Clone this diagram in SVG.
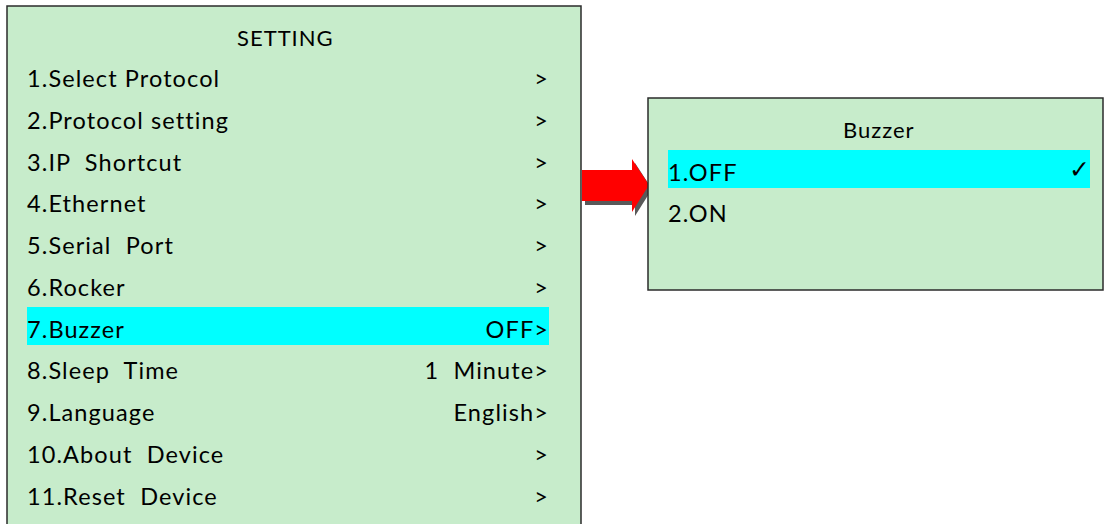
<svg xmlns="http://www.w3.org/2000/svg" width="1104" height="524" viewBox="0 0 1104 524">
<style>
.panel{fill:#C7ECCB;stroke:#2b2b2b;stroke-width:1.5}
.hl{fill:#00FFFF}
text{font-family:Lato,"Open Sans","Liberation Sans",sans-serif;font-size:23.5px;fill:#000;white-space:pre;letter-spacing:1.1px}
.t{font-size:22px;letter-spacing:1px}
.r{text-anchor:end}
.chk{font-family:"DejaVu Sans",sans-serif;font-size:25px;letter-spacing:0}
</style>
<rect width="1104" height="524" fill="#fff"/>
<g id="setting-menu">
<rect class="panel" x="7" y="6" width="574" height="530"/>
<rect class="hl" x="27" y="307" width="522" height="38"/>
<text class="t" x="237" y="46">SETTING</text>
<text x="27" y="87">1.Select Protocol</text><text class="r" x="549" y="87">&gt;</text>
<text x="27" y="128.75">2.Protocol setting</text><text class="r" x="549" y="128.75">&gt;</text>
<text x="27" y="170.5">3.IP  Shortcut</text><text class="r" x="549" y="170.5">&gt;</text>
<text x="27" y="212.25">4.Ethernet</text><text class="r" x="549" y="212.25">&gt;</text>
<text x="27" y="254">5.Serial  Port</text><text class="r" x="549" y="254">&gt;</text>
<text x="27" y="295.75">6.Rocker</text><text class="r" x="549" y="295.75">&gt;</text>
<text x="27" y="337.5">7.Buzzer</text><text class="r" x="549" y="337.5">OFF&gt;</text>
<text x="27" y="379.25">8.Sleep  Time</text><text class="r" x="549" y="379.25">1  Minute&gt;</text>
<text x="27" y="421">9.Language</text><text class="r" x="549" y="421">English&gt;</text>
<text x="27" y="462.75">10.About  Device</text><text class="r" x="549" y="462.75">&gt;</text>
<text x="27" y="504.5">11.Reset  Device</text><text class="r" x="549" y="504.5">&gt;</text>
</g>
<g id="connectors">
<polygon points="585,174 635,174 635,163 652,189 635,216 635,205 585,205" fill="#595959"/>
<polygon points="582,170 632,170 632,159 649,185 632,212 632,201 582,201" fill="#FF0000"/>
</g>
<g id="buzzer-menu">
<rect class="panel" x="648" y="98" width="455" height="192"/>
<rect class="hl" x="668" y="150" width="422" height="38"/>
<text class="t" x="843" y="138">Buzzer</text>
<text x="668" y="181">1.OFF</text>
<text class="chk r" x="1090" y="178">✓</text>
<text x="668" y="222">2.ON</text>
</g>
</svg>
